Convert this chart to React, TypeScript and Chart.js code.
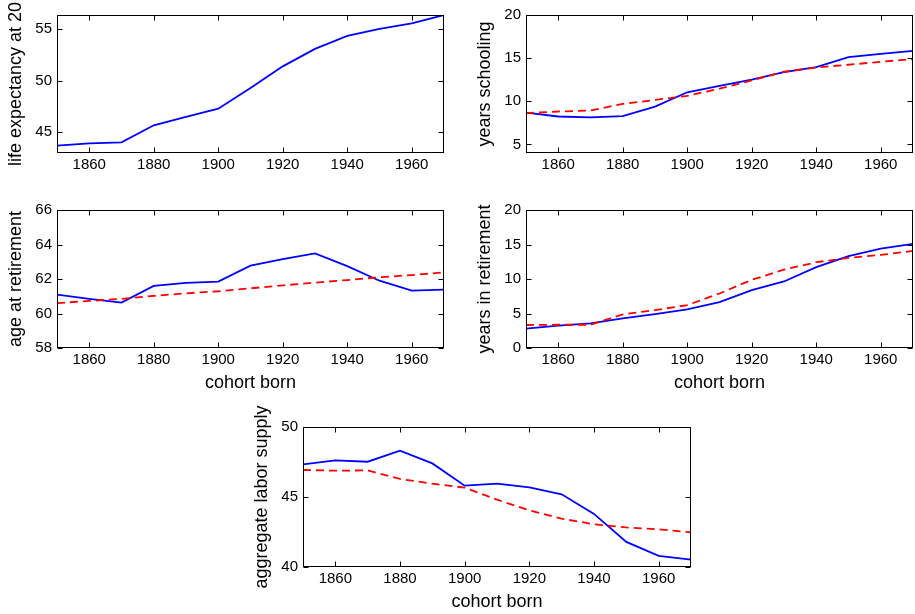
import React, { useEffect, useRef } from "react";
import { Chart, registerables } from "chart.js";

Chart.register(...registerables);

// ---------- data ----------
const cohorts = [1850, 1860, 1870, 1880, 1890, 1900, 1910, 1920, 1930, 1940, 1950, 1960, 1970];
const xTickValues = [1860, 1880, 1900, 1920, 1940, 1960];

const lifeExpectancy = [43.71, 43.94, 44.03, 45.68, 46.49, 47.29, 49.29, 51.38, 53.07, 54.32, 55.0, 55.54, 56.35];
const lifeTicks = [45, 50, 55];

const schoolingSolid = [8.69, 8.23, 8.12, 8.27, 9.38, 11.04, 11.77, 12.5, 13.38, 13.96, 15.12, 15.5, 15.85];
const schoolingDashed = [8.62, 8.81, 8.92, 9.69, 10.15, 10.62, 11.46, 12.42, 13.42, 13.92, 14.23, 14.58, 14.88];
const schoolingTicks = [5, 10, 15, 20];

const retireAgeSolid = [61.1, 60.85, 60.63, 61.6, 61.77, 61.85, 62.77, 63.15, 63.48, 62.75, 61.9, 61.33, 61.38];
const retireAgeDashed = [60.6, 60.73, 60.85, 61.02, 61.17, 61.29, 61.46, 61.63, 61.79, 61.94, 62.1, 62.23, 62.38];
const retireAgeTicks = [58, 60, 62, 64, 66];

const retireYearsSolid = [2.8, 3.23, 3.57, 4.29, 4.92, 5.59, 6.65, 8.39, 9.64, 11.71, 13.3, 14.41, 15.08];
const retireYearsDashed = [3.33, 3.37, 3.37, 4.87, 5.49, 6.22, 7.9, 9.88, 11.37, 12.43, 13.06, 13.49, 14.07];
const retireYearsTicks = [0, 5, 10, 15, 20];

const laborSolid = [47.33, 47.62, 47.52, 48.31, 47.4, 45.81, 45.95, 45.69, 45.19, 43.79, 41.79, 40.79, 40.52];
const laborDashed = [46.93, 46.88, 46.9, 46.29, 45.95, 45.67, 44.81, 44.05, 43.45, 43.05, 42.83, 42.69, 42.48];
const laborTicks = [40, 45, 50];

// ---------- layout / style ----------
const PAGE_W = 915;
const PAGE_H = 614;
const FONT = "'Liberation Sans', Arial, Helvetica, sans-serif";
const Y_AXIS_W = 55;

type PanelCfg = {
  L: number; T: number; W: number; H: number;
  ylabel: string; yMin: number; yMax: number; yTicks: number[];
  solid: number[]; dashed: number[] | null; xTitle: boolean;
};

const panels: PanelCfg[] = [
  { L: 57, T: 15, W: 387, H: 138, ylabel: "life expectancy at 20", yMin: 43, yMax: 56.35, yTicks: lifeTicks, solid: lifeExpectancy, dashed: null, xTitle: false },
  { L: 526, T: 15, W: 387, H: 138, ylabel: "years schooling", yMin: 4, yMax: 20, yTicks: schoolingTicks, solid: schoolingSolid, dashed: schoolingDashed, xTitle: false },
  { L: 57, T: 210, W: 387, H: 138, ylabel: "age at retirement", yMin: 58, yMax: 66, yTicks: retireAgeTicks, solid: retireAgeSolid, dashed: retireAgeDashed, xTitle: true },
  { L: 526, T: 210, W: 387, H: 138, ylabel: "years in retirement", yMin: 0, yMax: 20, yTicks: retireYearsTicks, solid: retireYearsSolid, dashed: retireYearsDashed, xTitle: true },
  { L: 303, T: 427, W: 388, H: 140, ylabel: "aggregate labor supply", yMin: 40, yMax: 50, yTicks: laborTicks, solid: laborSolid, dashed: laborDashed, xTitle: true },
];

const toPoints = (ys: number[]) => cohorts.map((x, i) => ({ x, y: ys[i] }));

const matlabBox = {
  id: "matlabBox",
  afterDraw(chart: any, _args: any, opts: any) {
    const { ctx, chartArea: a, scales } = chart;
    const tl = 5;
    ctx.save();
    ctx.strokeStyle = "#000";
    ctx.lineWidth = 1;
    const l = Math.round(a.left) + 0.5;
    const r = Math.round(a.right) - 0.5;
    const t = Math.round(a.top) + 0.5;
    const b = Math.round(a.bottom) - 0.5;
    ctx.strokeRect(l, t, r - l, b - t);
    ctx.beginPath();
    for (const tk of scales.x.ticks) {
      const px = Math.round(scales.x.getPixelForValue(tk.value)) + 0.5;
      ctx.moveTo(px, b); ctx.lineTo(px, b - tl);
      ctx.moveTo(px, t); ctx.lineTo(px, t + tl);
    }
    for (const tk of scales.y.ticks) {
      const py = Math.round(scales.y.getPixelForValue(tk.value)) + 0.5;
      ctx.moveTo(l, py); ctx.lineTo(l + tl, py);
      ctx.moveTo(r, py); ctx.lineTo(r - tl, py);
    }
    ctx.stroke();
    // y-axis label (rotated)
    if (opts && opts.text) {
      ctx.fillStyle = "#000";
      ctx.font = `18px ${FONT}`;
      ctx.textAlign = "center";
      ctx.textBaseline = "middle";
      ctx.translate(a.left - 41, (a.top + a.bottom) / 2);
      ctx.rotate(-Math.PI / 2);
      ctx.fillText(opts.text, 0, 0);
    }
    ctx.restore();
  },
};

function Panel({ cfg }: { cfg: PanelCfg }) {
  const ref = useRef<HTMLCanvasElement>(null);
  useEffect(() => {
    const Hx = cfg.xTitle ? 50 : 30;
    const datasets: any[] = [];
    if (cfg.dashed) {
      datasets.push({
        data: toPoints(cfg.dashed),
        borderColor: "#ff0000",
        borderWidth: 1.8,
        borderDash: [8, 5],
        pointRadius: 0,
        tension: 0,
        fill: false,
      });
    }
    datasets.push({
      data: toPoints(cfg.solid),
      borderColor: "#0000ff",
      borderWidth: 1.8,
      pointRadius: 0,
      tension: 0,
      fill: false,
    });
    const chart = new Chart(ref.current as HTMLCanvasElement, {
      type: "line",
      data: { datasets },
      options: {
        animation: false,
        responsive: false,
        maintainAspectRatio: false,
        events: [],
        layout: {
          padding: {
            left: cfg.L - Y_AXIS_W,
            top: cfg.T,
            right: PAGE_W - (cfg.L + cfg.W),
            bottom: PAGE_H - (cfg.T + cfg.H) - Hx,
          },
        },
        plugins: {
          legend: { display: false },
          tooltip: { enabled: false },
          matlabBox: { text: cfg.ylabel },
        } as any,
        scales: {
          x: {
            type: "linear",
            min: 1850,
            max: 1970,
            grid: { display: false, drawTicks: false },
            border: { display: false },
            afterBuildTicks: (s: any) => { s.ticks = xTickValues.map((v) => ({ value: v })); },
            afterFit: (s: any) => { s.height = Hx; s.paddingLeft = 0; s.paddingRight = 0; },
            ticks: {
              color: "#000",
              padding: 3,
              maxRotation: 0,
              autoSkip: false,
              font: { family: FONT, size: 15 },
              callback: (v: any) => String(v),
            },
            title: {
              display: cfg.xTitle,
              text: "cohort born",
              color: "#000",
              font: { family: FONT, size: 18 },
              padding: { top: 0, bottom: 4 },
            },
          },
          y: {
            type: "linear",
            min: cfg.yMin,
            max: cfg.yMax,
            grid: { display: false, drawTicks: false },
            border: { display: false },
            afterBuildTicks: (s: any) => { s.ticks = cfg.yTicks.map((v) => ({ value: v })); },
            afterFit: (s: any) => { s.width = Y_AXIS_W; s.paddingTop = 0; s.paddingBottom = 0; },
            ticks: {
              color: "#000",
              padding: 5,
              autoSkip: false,
              font: { family: FONT, size: 15 },
              callback: (v: any) => String(v),
            },
          },
        },
      } as any,
      plugins: [matlabBox as any],
    });
    return () => chart.destroy();
  }, []);
  return (
    <canvas
      ref={ref}
      width={PAGE_W}
      height={PAGE_H}
      style={{ position: "absolute", left: 0, top: 0, width: PAGE_W, height: PAGE_H }}
    />
  );
}

export default function App() {
  return (
    <div
      style={{
        position: "fixed",
        left: 0,
        top: 0,
        width: PAGE_W,
        height: PAGE_H,
        background: "#fff",
        overflow: "hidden",
      }}
    >
      {panels.map((p, i) => (
        <Panel key={i} cfg={p} />
      ))}
    </div>
  );
}
